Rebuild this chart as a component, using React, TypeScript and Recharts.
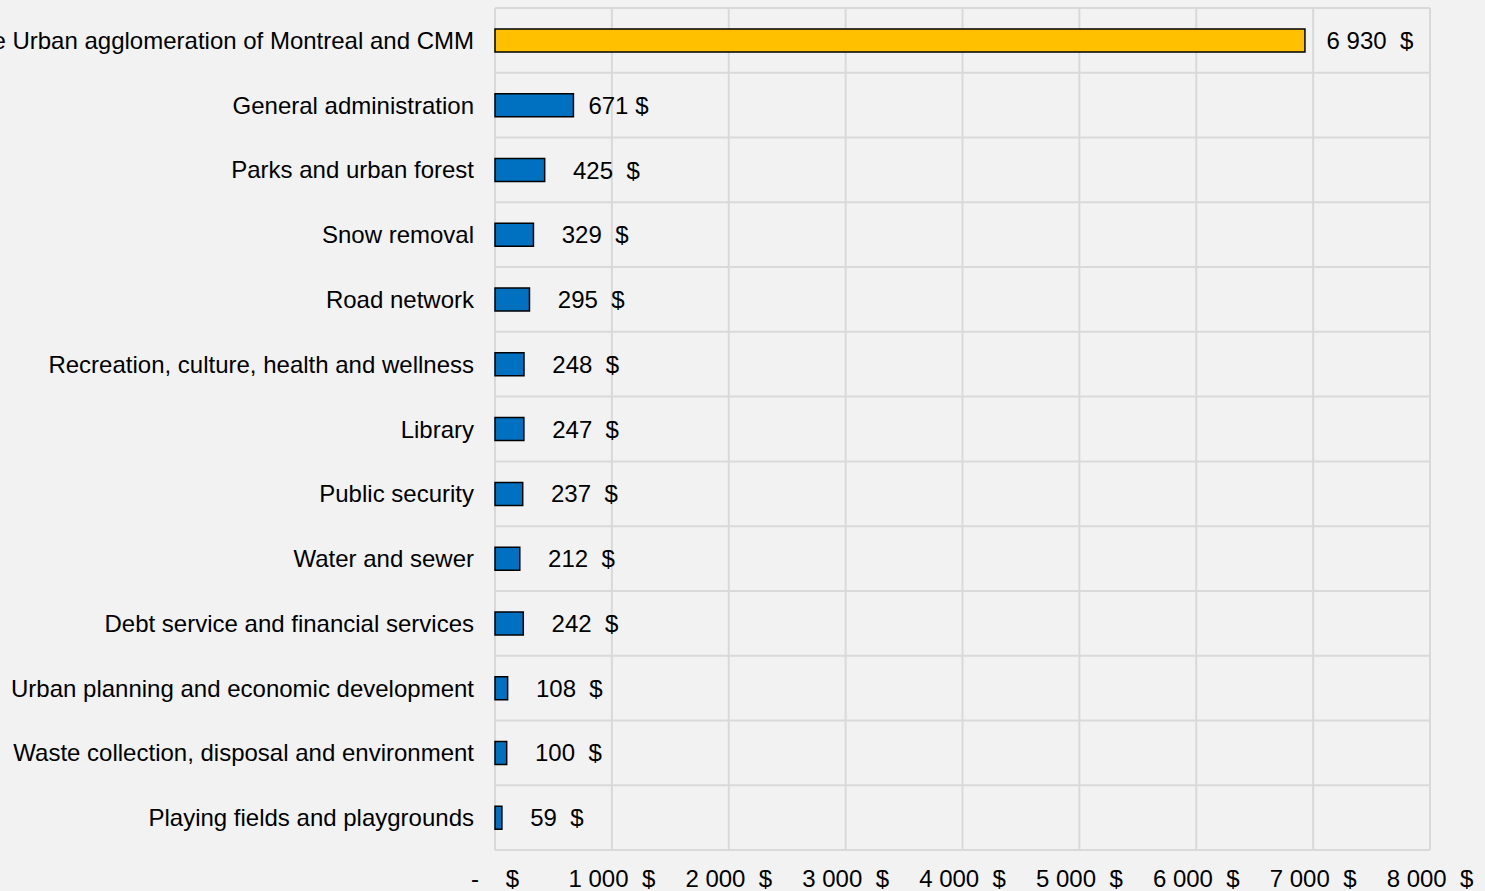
import React from 'react';
import { BarChart, Bar, XAxis, YAxis, CartesianGrid, Cell, LabelList } from 'recharts';

const categories = [
  'Share of the Urban agglomeration of Montreal and CMM',
  'General administration',
  'Parks and urban forest',
  'Snow removal',
  'Road network',
  'Recreation, culture, health and wellness',
  'Library',
  'Public security',
  'Water and sewer',
  'Debt service and financial services',
  'Urban planning and economic development',
  'Waste collection, disposal and environment',
  'Playing fields and playgrounds',
];

const amounts = [6930, 671, 425, 329, 295, 248, 247, 237, 212, 242, 108, 100, 59];

const valueLabels = [
  ' 6 930  $',
  '671 $',
  '  425  $',
  '  329  $',
  '  295  $',
  '  248  $',
  '  247  $',
  '  237  $',
  '  212  $',
  '  242  $',
  '  108  $',
  '  100  $',
  '  59  $',
];

const xTicks = [0, 1000, 2000, 3000, 4000, 5000, 6000, 7000, 8000];

const data = categories.map((name, i) => ({
  name,
  amount: amounts[i],
  label: valueLabels[i].replace(/ /g, '\u00A0'),
}));

const FONT = 'Arial, "Liberation Sans", sans-serif';

const fmtTick = (v: number) => {
  if (v === 0) return '-\u00A0\u00A0\u00A0\u00A0$';
  return v.toLocaleString('en-US').replace(/,/g, '\u00A0') + '\u00A0\u00A0$';
};

const YTick = (props: any) => {
  const { x, y, payload } = props;
  return (
    <text x={x - 21} y={y} textAnchor="end" dominantBaseline="central" fontSize={24} fontFamily={FONT} fill="#000">
      {payload.value}
    </text>
  );
};

const XTick = (props: any) => {
  const { x, y, payload } = props;
  return (
    <text x={x} y={y + 28} textAnchor="middle" dominantBaseline="central" fontSize={24} fontFamily={FONT} fill="#000">
      {fmtTick(payload.value)}
    </text>
  );
};

export default function App() {
  const n = categories.length;
  return (
    <div style={{ position: 'absolute', left: 0, top: 0, width: 1485, height: 891, background: '#f2f2f2', overflow: 'hidden' }}>
      <BarChart
        width={1485}
        height={891}
        data={data}
        layout="vertical"
        margin={{ top: 8, right: 55, bottom: 0, left: 0 }}
        barSize={23}
      >
        <CartesianGrid
          stroke="#d9d9d9"
          strokeWidth={2}
          horizontalCoordinatesGenerator={({ offset }: any) =>
            Array.from({ length: n + 1 }, (_, i) => offset.top + (i * offset.height) / n)
          }
        />
        <XAxis
          type="number"
          domain={[0, 8000]}
          ticks={xTicks}
          height={41}
          axisLine={false}
          tickLine={false}
          tickSize={0}
          tickMargin={0}
          tick={<XTick />}
          interval={0}
        />
        <YAxis
          type="category"
          dataKey="name"
          width={495}
          axisLine={false}
          tickLine={false}
          tickSize={0}
          tickMargin={0}
          tick={<YTick />}
          interval={0}
        />
        <Bar dataKey="amount" stroke="#000" strokeWidth={1.5} isAnimationActive={false}>
          {data.map((d, i) => (
            <Cell key={d.name} fill={i === 0 ? '#FFC000' : '#0070C0'} />
          ))}
          <LabelList
            dataKey="label"
            position="right"
            offset={15}
            fontSize={24}
            fontFamily={FONT}
            fill="#000"
          />
        </Bar>
      </BarChart>
    </div>
  );
}
